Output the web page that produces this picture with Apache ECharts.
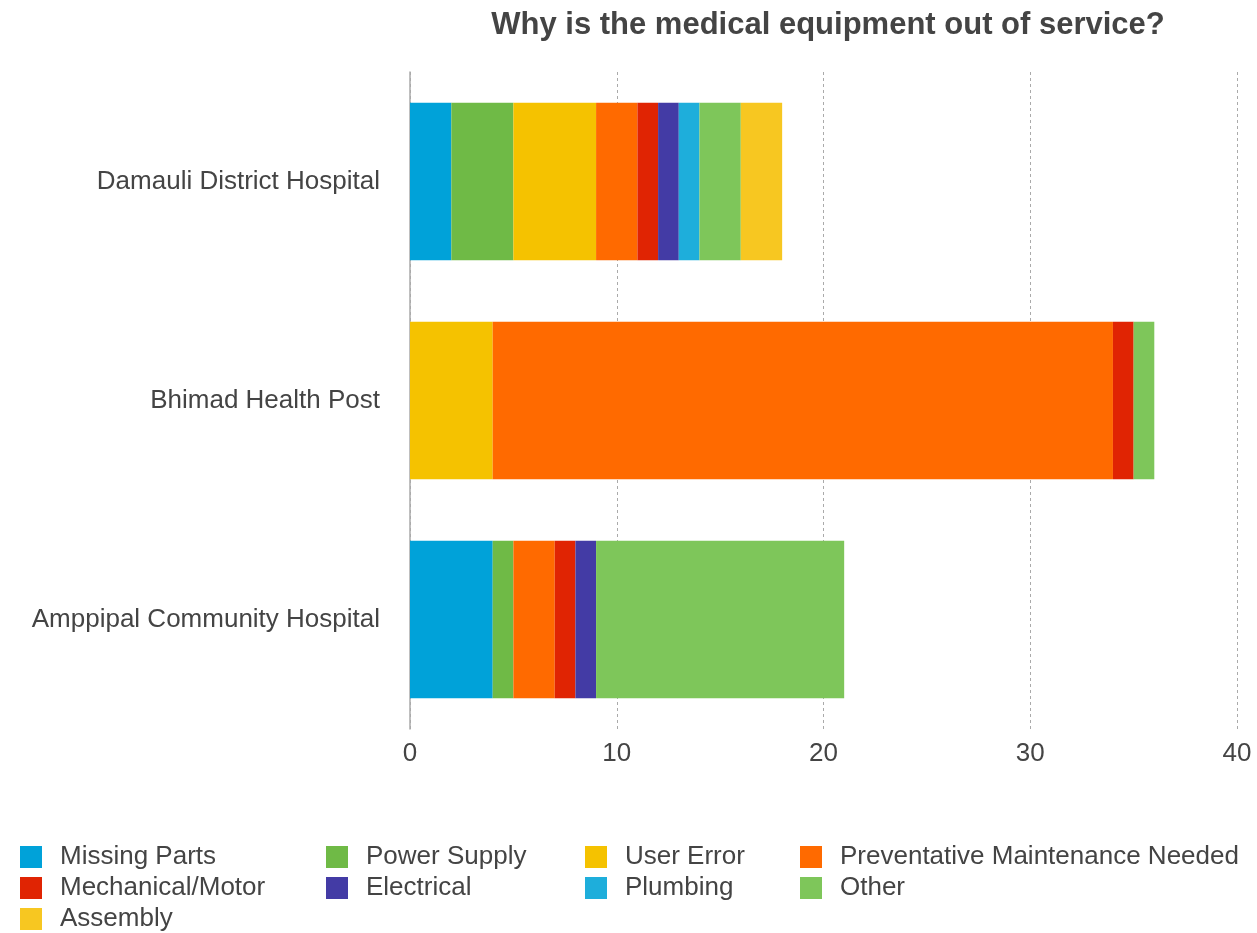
<!DOCTYPE html>
<html>
<head>
<meta charset="utf-8">
<script src="https://cdn.jsdelivr.net/npm/echarts@6/dist/echarts.min.js"></script>
<style>html,body{margin:0;padding:0;background:#fff}#c{width:1257px;height:933px}</style>
</head>
<body>
<div id="c"></div>
<script>
const categories = ['Damauli District Hospital', 'Bhimad Health Post', 'Amppipal Community Hospital'];
const seriesNames = ['Missing Parts', 'Power Supply', 'User Error', 'Preventative Maintenance Needed', 'Mechanical/Motor', 'Electrical', 'Plumbing', 'Other', 'Assembly'];
const missingParts = [2, 0, 4];
const powerSupply = [3, 0, 1];
const userError = [4, 4, 0];
const preventative = [2, 30, 2];
const mechanical = [1, 1, 1];
const electrical = [1, 0, 1];
const plumbing = [1, 0, 0];
const other = [2, 1, 12];
const assembly = [2, 0, 0];
const xTicks = [0, 10, 20, 30, 40];

const values = [missingParts, powerSupply, userError, preventative, mechanical, electrical, plumbing, other, assembly];
const colors = ['#00A2D9', '#6FBA46', '#F5C200', '#FF6A00', '#E02403', '#433BA5', '#1EAEDB', '#7EC65A', '#F7C721'];
const FONT = 'Liberation Sans';

const legendCols = [
  {left: 20, names: ['Missing Parts', 'Mechanical/Motor', 'Assembly']},
  {left: 326, names: ['Power Supply', 'Electrical']},
  {left: 585, names: ['User Error', 'Plumbing']},
  {left: 800, names: ['Preventative Maintenance Needed', 'Other']}
];

const chart = echarts.init(document.getElementById('c'));
chart.setOption({
  animation: false,
  color: colors,
  title: {
    text: 'Why is the medical equipment out of service?',
    left: 823, top: 5, textAlign: 'center',
    textStyle: {fontFamily: FONT, fontSize: 31, fontWeight: 'bold', color: '#444'}
  },
  grid: {left: 410, right: 20, top: 72, bottom: 204, containLabel: false},
  legend: legendCols.map(c => ({
    orient: 'vertical', left: c.left, top: 844, padding: 0,
    height: 140,
    itemWidth: 22, itemHeight: 22, itemGap: 5, icon: 'rect',
    data: c.names,
    textStyle: {fontFamily: FONT, fontSize: 26, lineHeight: 22, color: '#444', padding: [0, 0, 0, 13]}
  })),
  xAxis: {
    type: 'value', min: xTicks[0], max: xTicks[xTicks.length - 1], interval: 10,
    axisLine: {show: false}, axisTick: {show: false},
    axisLabel: {fontFamily: FONT, fontSize: 26, color: '#444', margin: 12},
    splitLine: {show: true, lineStyle: {type: [3, 3], color: '#aaa', width: 1}}
  },
  yAxis: {
    type: 'category', data: categories, inverse: true,
    axisLine: {show: true, lineStyle: {color: '#aaa', width: 1.5}},
    axisTick: {show: false},
    axisLabel: {fontFamily: FONT, fontSize: 26, color: '#444', margin: 30}
  },
  series: seriesNames.map((n, i) => ({
    name: n, type: 'bar', stack: 'total', barCategoryGap: '28%',
    data: values[i].map(v => v === 0 ? null : v)
  }))
});
</script>
</body>
</html>
